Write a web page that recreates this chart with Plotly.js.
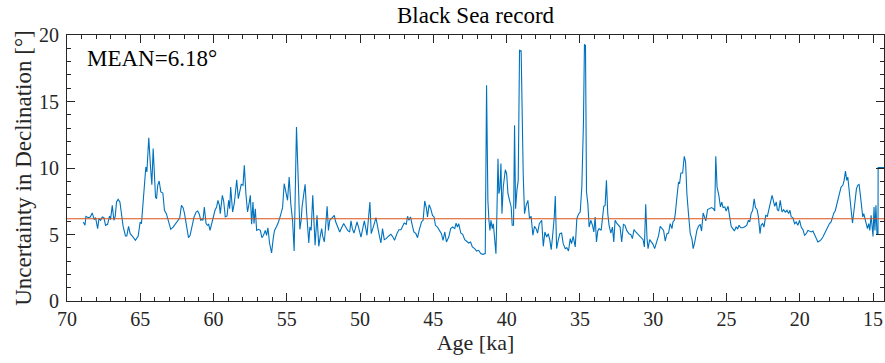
<!DOCTYPE html>
<html><head><meta charset="utf-8">
<script src="https://cdn.plot.ly/plotly-3.0.1.min.js"></script>
<style>html,body{margin:0;padding:0;background:#fff}</style>
</head><body><div id="chart" style="width:885px;height:363px"></div>
<script>
// Age (ka) of each sample
const ageKa = [
68.89,68.77,68.71,68.55,68.41,68.28,68.14,68.05,67.91,67.82,67.71,67.59,67.48,67.37,67.23,67.10,67.03,66.91,66.80,66.71,66.62,66.51,66.39,66.28,66.17,66.01,65.92,65.80,65.69,65.53,65.33,65.14,65.01,64.92,64.80,64.62,64.55,64.42,64.30,64.21,64.12,63.96,63.89,63.81,63.71,63.60,63.46,63.35,63.22,63.06,62.92,62.76,62.58,62.42,62.31,62.19,62.08,
61.99,61.87,61.71,61.60,61.46,61.33,61.19,61.08,60.97,60.87,60.78,60.72,60.63,60.51,60.42,60.33,60.24,60.13,60.01,59.90,59.79,59.70,59.60,59.54,59.40,59.31,59.20,59.08,58.97,58.90,58.83,58.70,58.58,58.42,58.31,58.20,58.11,57.99,57.90,57.79,57.68,57.56,57.49,57.40,57.31,57.24,57.15,57.06,56.93,56.81,56.70,56.59,56.47,56.38,56.29,56.18,56.04,55.93,55.84,55.70,55.57,55.43,55.29,55.18,55.07,54.95,54.84,54.73,54.61,54.50,54.34,54.23,54.11,54.02,
53.96,53.84,53.75,53.66,53.57,53.50,53.43,53.34,53.23,53.16,53.07,52.94,52.82,52.71,52.62,52.55,52.44,52.32,52.25,52.16,52.07,51.96,51.85,51.76,51.66,51.53,51.39,51.26,51.12,50.98,50.85,50.71,50.62,50.53,50.42,50.33,50.21,50.10,49.94,49.80,49.71,49.62,49.53,49.44,49.33,49.24,49.12,49.03,48.92,48.80,48.69,48.58,48.47,48.35,48.22,48.08,47.90,47.76,47.65,47.49,47.35,47.21,47.10,46.99,46.85,46.76,46.67,46.56,46.44,46.33,46.19,46.08,45.97,45.88,
45.81,45.70,45.59,45.47,45.40,45.29,45.18,45.06,44.95,44.86,44.72,44.59,44.45,44.34,44.22,44.11,43.95,43.82,43.68,43.54,43.45,43.36,43.27,43.13,43.00,42.86,42.73,42.59,42.46,42.34,42.18,42.05,41.91,41.77,41.62,41.46,41.37,41.28,41.21,41.14,41.07,40.98,40.91,40.84,40.73,40.66,40.59,40.53,40.46,40.39,40.32,40.23,40.09,40.00,39.91,39.80,39.69,39.62,39.53,39.46,39.39,39.30,39.21,39.12,39.01,38.87,38.78,38.67,38.55,38.44,38.33,38.21,38.10,37.99,
37.89,37.77,37.61,37.50,37.39,37.27,37.16,37.05,36.96,36.87,36.75,36.68,36.59,36.48,36.37,36.25,36.14,36.00,35.89,35.78,35.66,35.57,35.46,35.32,35.21,35.10,34.98,34.87,34.76,34.69,34.62,34.55,34.46,34.37,34.26,34.14,34.05,33.96,33.87,33.78,33.69,33.55,33.46,33.37,33.28,33.19,33.10,33.01,32.89,32.78,32.69,32.60,32.49,32.37,32.26,32.15,32.03,31.92,31.81,31.65,31.53,31.42,31.31,31.19,31.08,30.92,30.78,30.69,30.60,30.51,30.42,30.35,30.24,30.13,30.01,29.90,
29.74,29.63,29.52,29.38,29.29,29.18,29.06,28.95,28.84,28.72,28.65,28.56,28.49,28.38,28.27,28.20,28.11,27.99,27.88,27.79,27.70,27.59,27.47,27.36,27.27,27.16,27.02,26.91,26.79,26.70,26.59,26.50,26.41,26.29,26.15,26.02,25.89,25.80,25.73,25.64,25.52,25.41,25.32,25.23,25.11,25.02,24.89,24.77,24.68,24.57,24.46,24.34,24.23,24.14,24.02,23.91,23.78,23.62,23.50,23.41,23.32,23.21,23.11,23.02,22.91,22.82,22.71,22.64,22.53,22.44,22.32,22.21,22.10,21.98,21.89,
21.83,21.71,21.60,21.53,21.44,21.33,21.21,21.10,20.99,20.87,20.76,20.67,20.58,20.47,20.35,20.24,20.13,20.01,19.90,19.78,19.67,19.56,19.44,19.33,19.22,19.10,18.99,18.88,18.76,18.65,18.54,18.42,18.31,18.20,18.08,17.97,17.86,17.74,17.67,17.58,17.49,17.40,17.29,17.18,17.06,16.97,16.88,16.79,16.72,16.65,16.56,16.47,16.40,16.31,16.22,16.13,16.04,15.95,15.86,15.79,15.70,15.63,15.54,15.47,15.38,15.29,15.22,15.13,15.06,15.00,14.93,14.87,14.80,14.73,14.66,14.65,14.25
];
// Uncertainty in declination (degrees)
const uncertaintyDeg = [
5.94,5.69,6.37,6.27,6.32,6.62,6.12,6.27,5.44,6.19,6.07,6.32,6.27,5.69,5.77,6.39,6.12,7.19,6.07,6.37,7.44,7.64,7.44,6.57,5.61,4.89,4.89,5.61,5.06,4.86,4.56,4.89,5.94,5.82,7.32,10.08,9.70,12.28,10.08,8.75,11.46,7.82,7.69,8.70,9.02,8.20,8.12,6.82,6.57,5.82,5.39,5.56,5.87,6.07,6.24,7.19,7.02,
6.62,5.82,4.76,4.94,5.56,6.32,6.69,6.77,6.52,6.07,6.14,6.07,7.07,5.82,5.69,5.77,5.31,5.82,6.32,6.82,7.07,7.57,7.19,6.57,7.94,7.52,6.32,6.39,7.57,6.94,8.57,6.69,7.37,9.12,7.69,8.45,8.77,8.70,10.20,8.02,6.69,7.44,7.94,5.77,7.44,5.82,6.94,5.31,5.39,5.31,4.76,4.94,5.31,4.94,5.51,4.36,3.61,4.69,5.31,5.61,5.94,6.44,7.02,8.82,8.20,7.57,9.32,7.32,6.07,3.76,13.08,8.57,5.39,6.10,
7.07,8.07,8.77,6.82,5.06,4.36,5.56,5.31,7.94,6.07,4.19,6.44,4.11,4.94,5.44,4.86,4.44,6.07,7.12,5.31,6.07,6.19,6.37,6.44,5.94,5.61,5.19,5.51,5.82,5.56,5.31,5.19,6.02,5.44,5.11,5.44,5.94,5.51,4.81,5.56,6.02,5.51,4.94,6.07,7.44,5.06,5.44,5.82,6.27,5.44,4.94,4.36,5.44,4.61,4.69,4.86,5.01,4.81,4.56,5.06,5.36,5.36,5.61,5.87,5.77,6.37,6.07,6.32,5.69,5.19,5.06,4.76,5.31,5.60,
5.94,6.07,7.52,6.94,6.32,7.24,6.94,6.44,6.32,5.69,5.56,5.31,5.06,4.56,5.19,4.44,4.81,5.44,5.56,5.44,5.86,5.56,5.81,5.11,5.01,4.61,4.51,4.36,4.44,4.06,3.94,3.76,3.81,3.56,3.51,3.56,16.22,7.57,6.07,5.31,6.07,5.44,5.81,5.06,3.56,6.82,10.70,8.07,8.45,10.33,6.57,8.57,9.87,9.57,8.07,7.57,7.07,5.69,5.69,13.21,6.94,8.32,9.07,18.85,18.80,9.57,6.57,7.19,7.57,6.19,6.37,4.94,5.61,5.44,
5.11,5.81,6.07,4.11,5.19,4.81,5.06,4.56,3.86,4.81,6.32,7.89,3.94,4.56,5.06,5.11,4.31,3.94,4.01,3.76,4.69,4.31,4.86,4.06,6.19,6.52,6.69,8.57,13.33,19.30,19.22,8.20,7.32,5.56,6.07,5.69,5.19,6.32,4.44,5.26,5.44,5.31,6.19,7.12,7.19,9.07,6.57,5.69,5.11,5.56,4.44,6.07,5.86,5.69,5.56,4.44,5.76,5.69,5.31,5.06,5.01,4.69,5.36,5.19,5.06,4.86,4.69,4.61,4.06,7.27,4.69,3.94,4.61,4.44,4.26,3.94,
4.56,4.94,5.61,5.44,5.31,4.51,5.06,5.11,5.82,5.44,5.94,6.07,6.57,7.82,8.95,8.82,9.62,9.62,10.88,10.45,8.07,6.52,5.06,4.69,3.94,4.44,5.31,5.61,5.77,5.26,6.62,6.32,6.02,6.87,6.94,7.02,6.94,6.77,10.88,8.57,7.94,7.07,7.44,7.02,7.07,6.77,7.12,6.32,5.61,5.44,5.26,5.56,5.44,5.69,5.51,5.51,5.56,5.69,6.07,5.94,6.57,6.82,7.69,7.02,6.87,6.32,5.06,5.69,5.82,5.56,6.44,6.37,6.94,7.57,7.94,
7.69,7.12,7.44,6.87,6.77,7.57,6.69,6.87,6.69,6.82,6.57,6.82,6.32,6.27,5.82,5.94,5.69,6.07,5.56,5.36,4.94,5.06,5.31,5.26,5.19,5.26,5.01,4.76,4.44,4.51,4.61,4.81,5.06,5.31,5.56,5.82,5.94,6.44,6.62,6.77,7.19,7.62,7.94,8.57,8.70,9.07,9.77,9.07,9.32,8.45,7.32,6.19,5.86,6.69,7.57,8.45,8.70,8.77,7.94,6.94,6.32,6.57,6.19,5.82,5.44,5.82,5.31,6.44,5.06,4.86,7.07,5.31,7.19,5.06,5.06,10.03,10.03
];
const meanValue = 6.18;
const xTickStep = 5;
const yTickStep = 5;
const xRange = [70, 14.25];
const yRange = [0, 20];

const fontName = 'Liberation Serif';
const axisColor = '#262626';

const line = {
  x: ageKa, y: uncertaintyDeg, type: 'scatter', mode: 'lines',
  line: {color: '#0072BD', width: 1.1}, hoverinfo: 'skip', showlegend: false
};

function axisBase(step) {
  return {
    showgrid: false, zeroline: false, showline: true, linecolor: axisColor, linewidth: 1,
    mirror: 'allticks', ticks: 'inside', ticklen: 8, tickwidth: 1, tickcolor: axisColor,
    tickmode: 'linear', tick0: 0, dtick: step,
    minor: {dtick: 1, ticks: 'inside', ticklen: 4, tickwidth: 1, tickcolor: axisColor, showgrid: false},
    tickfont: {family: fontName, size: 20, color: axisColor}, autorange: false
  };
}

const layout = {
  width: 885, height: 363,
  margin: {l: 67, r: 1, t: 35, b: 62},
  title: {text: 'Black Sea record', font: {family: fontName, size: 23, color: '#000'}, x: 0.5, xref: 'paper', y: 0.958, yref: 'container', yanchor: 'middle'},
  xaxis: Object.assign(axisBase(xTickStep), {range: xRange,
    title: {text: 'Age [ka]', font: {family: fontName, size: 22, color: axisColor}, standoff: 2}}),
  yaxis: Object.assign(axisBase(yTickStep), {range: yRange, ticklabelstandoff: 3,
    title: {text: 'Uncertainty in Declination [°]', font: {family: fontName, size: 23, color: axisColor}, standoff: 0}}),
  shapes: [{type: 'line', xref: 'paper', x0: 0, x1: 1, yref: 'y', y0: meanValue, y1: meanValue,
    line: {color: '#D95319', width: 1.1}, layer: 'above'}],
  annotations: [{text: 'MEAN=' + meanValue.toFixed(2) + '°', xref: 'paper', yref: 'paper', x: 0.022, y: 0.912,
    xanchor: 'left', yanchor: 'middle', showarrow: false, font: {family: fontName, size: 23, color: '#000'}}]
};

Plotly.newPlot('chart', [line], layout, {displayModeBar: false, staticPlot: true});
</script></body></html>
